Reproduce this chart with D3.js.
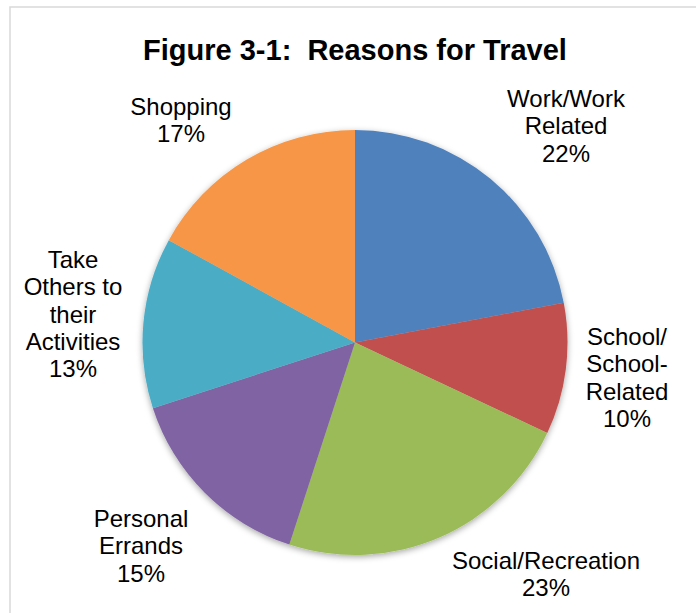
<!DOCTYPE html>
<html>
<head>
<meta charset="utf-8">
<script src="https://cdn.jsdelivr.net/npm/d3@7"></script>
<style>
  html, body { margin: 0; padding: 0; background: #fff; }
  svg { display: block; font-family: "Liberation Sans", Arial, sans-serif; }
  .title { white-space: pre; }
</style>
</head>
<body>
<svg id="chart" width="696" height="613"></svg>
<script>
// Reasons for travel, share of trips (%)
const categories = ["Work/Work Related", "School/ School-Related", "Social/Recreation",
                    "Personal Errands", "Take Others to their Activities", "Shopping"];
const values = [22, 10, 23, 15, 13, 17];
const colors = ["#4F81BD", "#C0504D", "#9BBB59", "#8064A2", "#4BACC6", "#F79646"];
// label text broken into lines, plus label anchor (centre x, first baseline)
const labelLines = [
  ["Work/Work", "Related"],
  ["School/", "School-", "Related"],
  ["Social/Recreation"],
  ["Personal", "Errands"],
  ["Take", "Others to", "their", "Activities"],
  ["Shopping"]
];
const labelAnchors = [[566, 107], [627, 345], [546, 569], [141, 527], [73, 268], [181, 115]];

const svg = d3.select("#chart");
const W = 696, H = 613;
const cx = 355, cy = 342.5, R = 212.5;
const lineH = 27.3;

// outer chart frame
svg.append("rect")
  .attr("x", 10).attr("y", 7)
  .attr("width", W + 20).attr("height", H + 20)
  .attr("fill", "#fff")
  .attr("stroke", "#d9d9d9").attr("stroke-width", 1.5);

// soft shadow under the pie
const defs = svg.append("defs");
const f = defs.append("filter").attr("id", "pieShadow")
  .attr("x", "-10%").attr("y", "-10%").attr("width", "120%").attr("height", "120%");
f.append("feDropShadow")
  .attr("dx", 0).attr("dy", 2).attr("stdDeviation", 3)
  .attr("flood-color", "#000").attr("flood-opacity", 0.35);

// title
svg.append("text")
  .attr("class", "title")
  .attr("x", cx).attr("y", 60)
  .attr("text-anchor", "middle")
  .attr("font-size", 29).attr("font-weight", "bold")
  .attr("fill", "#000")
  .text("Figure 3-1:  Reasons for Travel");

const data = categories.map((c, i) => ({ name: c, value: values[i], color: colors[i], lines: labelLines[i], anchor: labelAnchors[i] }));

const pie = d3.pie().value(d => d.value).sort(null);
const arc = d3.arc().innerRadius(0).outerRadius(R);

const g = svg.append("g").attr("transform", `translate(${cx},${cy})`);
g.append("g").attr("filter", "url(#pieShadow)")
  .selectAll("path")
  .data(pie(data))
  .join("path")
  .attr("d", arc)
  .attr("fill", d => d.data.color);

// data labels: category name lines then percentage
const labels = svg.append("g")
  .attr("font-size", 24)
  .attr("fill", "#000")
  .attr("text-anchor", "middle");

data.forEach(d => {
  const t = labels.append("text")
    .attr("x", d.anchor[0]).attr("y", d.anchor[1]);
  const all = d.lines.concat([d.value + "%"]);
  all.forEach((ln, k) => {
    t.append("tspan")
      .attr("x", d.anchor[0])
      .attr("y", d.anchor[1] + k * lineH)
      .text(ln);
  });
});
</script>
</body>
</html>
